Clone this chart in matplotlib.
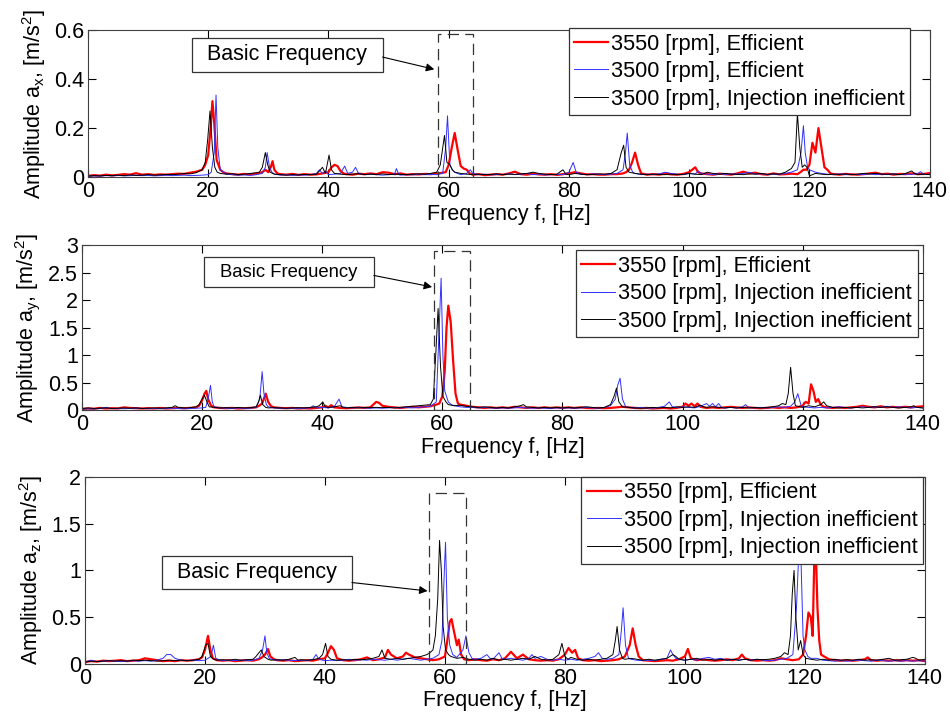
import numpy as np
import matplotlib
matplotlib.use("Agg")
import matplotlib.pyplot as plt
from matplotlib.patches import Rectangle
from matplotlib.ticker import FormatStrFormatter

plt.rcParams['font.family'] = ['Liberation Sans', 'DejaVu Sans']
plt.rcParams['mathtext.default'] = 'regular'

# ---- spectra: (frequency Hz, amplitude m/s^2) ----

# panel a_x
x_red = [(0, .005), (1, .008), (2, .006), (3, .01), (4, .007), (5, .009), (6, .012), (7, .01), (8, .016), (9, .01),
         (10, .012), (11, .009), (12, .011), (13, .01), (14, .012), (15, .014), (16, .013), (17, .018), (18, .022),
         (19, .03), (19.5, .05), (20, .09), (20.4, .2), (20.7, .31), (21, .22), (21.4, .07), (22, .03), (22.5, .02),
         (23, .015), (24, .012), (25, .01), (26, .013), (27, .011), (28, .014), (29, .02), (29.5, .03), (30, .02),
         (30.4, .04), (30.7, .065), (31, .03), (31.5, .015), (32, .012), (33, .01), (34, .013), (35, .009), (36, .012),
         (37, .01), (38, .011), (39, .015), (40, .02), (40.5, .04), (41, .05), (41.5, .045), (42, .025), (42.5, .015),
         (43, .012), (44, .01), (45, .014), (46, .012), (47, .015), (48, .012), (49, .02), (50, .018), (51, .012),
         (52, .015), (53, .01), (54, .012), (55, .011), (56, .013), (57, .012), (58, .015), (59, .018), (59.5, .02),
         (60, .05), (60.5, .12), (61, .18), (61.5, .11), (62, .045), (62.5, .035), (63, .03), (63.5, .015), (64, .01),
         (65, .012), (66, .008), (67, .01), (68, .012), (69, .01), (70, .015), (71, .022), (72, .012), (73, .01),
         (74, .014), (75, .011), (76, .01), (77, .012), (78, .009), (79, .012), (80, .015), (81, .02), (82, .015),
         (83, .011), (84, .012), (85, .01), (86, .01), (87, .012), (88, .012), (89, .015), (89.5, .02), (90, .03),
         (90.5, .06), (91, .1), (91.5, .05), (92, .015), (93, .01), (94, .012), (95, .01), (96, .014), (97, .011),
         (98, .01), (99, .013), (100, .02), (101, .04), (101.5, .02), (102, .015), (103, .012), (104, .01), (105, .014),
         (106, .012), (107, .01), (108, .015), (109, .022), (110, .015), (111, .018), (112, .012), (113, .01),
         (114, .015), (115, .011), (116, .012), (117, .014), (118, .012), (118.5, .02), (119, .03), (119.5, .03),
         (120, .05), (120.5, .14), (121, .1), (121.5, .2), (122, .12), (122.5, .04), (123, .03), (123.5, .015),
         (124, .012), (125, .01), (126, .013), (127, .011), (128, .01), (129, .012), (130, .015), (131, .018),
         (132, .012), (133, .014), (134, .01), (135, .013), (136, .012), (137, .015), (138, .012), (139, .013), (140, .016)]
x_blue = [(0, .003), (1, .005), (2, .004), (3, .006), (4, .005), (5, .007), (6, .005), (7, .006), (8, .008), (9, .006),
          (10, .007), (11, .005), (12, .006), (13, .008), (14, .006), (15, .007), (16, .008), (17, .006), (18, .007),
          (19, .008), (20, .01), (20.5, .02), (21, .1), (21.3, .335), (21.6, .12), (22, .03), (23, .012), (24, .01),
          (25, .008), (26, .009), (27, .007), (28, .01), (29, .015), (29.5, .04), (29.8, .1), (30.2, .04), (30.6, .02),
          (31, .012), (32, .008), (33, .01), (34, .007), (35, .009), (36, .008), (37, .01), (38, .015), (38.5, .03),
          (39, .015), (39.5, .025), (40, .01), (41, .012), (42, .015), (42.7, .045), (43.2, .015), (44, .02),
          (44.5, .04), (45, .015), (46, .01), (47, .012), (48, .01), (49, .008), (50, .01), (51, .012), (51.3, .035),
          (51.7, .01), (52, .008), (53, .01), (54, .009), (55, .012), (56, .01), (57, .011), (58, .01), (59, .015),
          (59.5, .12), (59.8, .25), (60.2, .05), (60.6, .03), (61, .02), (62, .01), (63, .015), (63.6, .03), (64, .015),
          (65, .01), (66, .012), (67, .009), (68, .011), (69, .01), (70, .014), (71, .01), (72, .012), (73, .015),
          (74, .01), (75, .012), (76, .009), (77, .01), (78, .011), (79, .01), (80, .02), (80.7, .06), (81.2, .02),
          (82, .012), (83, .01), (84, .013), (85, .011), (86, .01), (87, .012), (88, .015), (89, .03), (89.4, .1),
          (89.7, .18), (90.1, .05), (90.6, .02), (91, .015), (92, .01), (93, .012), (94, .01), (95, .013), (96, .02),
          (97, .015), (98, .012), (99, .01), (100, .015), (101, .012), (101.5, .025), (102, .015), (103, .012),
          (104, .01), (105, .014), (106, .011), (107, .013), (108, .012), (109, .015), (110, .02), (111, .012),
          (112, .014), (113, .01), (114, .012), (115, .011), (116, .015), (117, .02), (118, .03), (118.6, .1),
          (119, .21), (119.3, .1), (119.7, .04), (120, .03), (121, .02), (122, .015), (123, .012), (124, .01),
          (125, .013), (126, .01), (127, .012), (128, .01), (129, .011), (130, .013), (131, .01), (132, .012),
          (133, .011), (134, .013), (135, .01), (136, .012), (137, .011), (138, .015), (138.5, .022), (139, .01), (140, .012)]
x_black = [(0, .004), (1, .006), (2, .005), (3, .007), (4, .006), (5, .008), (6, .006), (7, .009), (8, .007), (9, .008),
           (10, .01), (11, .008), (12, .009), (13, .011), (14, .01), (15, .012), (16, .015), (17, .013), (18, .018),
           (19, .03), (19.5, .06), (19.9, .15), (20.3, .27), (20.7, .12), (21.1, .04), (21.5, .02), (22, .015),
           (23, .012), (24, .014), (25, .01), (26, .012), (27, .015), (28, .018), (28.5, .02), (29, .04), (29.5, .1),
           (29.9, .05), (30.3, .02), (31, .012), (32, .01), (33, .008), (34, .01), (35, .009), (36, .011), (37, .01),
           (38, .012), (38.5, .025), (39, .04), (39.5, .015), (40.1, .09), (40.5, .03), (41, .015), (42, .012),
           (43, .01), (44, .012), (45, .014), (46, .01), (47, .012), (48, .011), (49, .013), (50, .01), (51, .012),
           (52, .011), (53, .01), (54, .012), (55, .013), (56, .012), (57, .015), (58, .02), (58.6, .05), (59, .12),
           (59.3, .17), (59.7, .06), (60.2, .05), (60.6, .03), (61, .02), (62, .015), (63, .012), (64, .01), (65, .012),
           (66, .01), (67, .011), (68, .013), (69, .01), (70, .012), (71, .011), (72, .013), (73, .015), (74, .02),
           (75, .015), (76, .012), (77, .01), (78, .012), (79, .03), (79.5, .012), (80, .01), (81, .015), (82, .012),
           (83, .01), (84, .011), (85, .013), (86, .012), (87, .015), (88, .03), (88.7, .1), (89.1, .13), (89.5, .04),
           (90, .02), (91, .015), (92, .012), (93, .01), (94, .012), (95, .011), (96, .01), (97, .012), (98, .01),
           (99, .011), (100, .015), (101, .012), (102, .01), (103, .02), (104, .015), (105, .012), (106, .015),
           (107, .012), (108, .011), (109, .01), (110, .013), (111, .012), (112, .015), (113, .011), (114, .013),
           (115, .012), (116, .02), (117, .035), (117.6, .06), (118, .26), (118.4, .12), (118.8, .04), (119.2, .05),
           (119.6, .04), (120, .005), (121, .015), (122, .012), (123, .01), (124, .012), (125, .011), (126, .013),
           (127, .01), (128, .012), (129, .015), (130, .013), (131, .015), (132, .012), (133, .011), (134, .013),
           (135, .01), (136, .015), (137, .025), (137.5, .015), (138, .01), (139, .012), (140, .01)]

# panel a_y
y_red = [(0, .02), (1, .03), (2, .025), (3, .04), (4, .03), (5, .035), (6, .03), (7, .05), (8, .04), (9, .035),
         (10, .03), (11, .035), (12, .03), (13, .04), (14, .03), (15, .035), (16, .04), (17, .035), (18, .04),
         (19, .05), (19.5, .08), (20, .18), (20.4, .3), (20.7, .35), (21, .2), (21.5, .08), (22, .05), (23, .04),
         (24, .035), (25, .04), (26, .03), (27, .035), (28, .04), (29, .05), (29.5, .08), (30, .12), (30.6, .3),
         (31, .15), (31.5, .07), (32, .05), (33, .04), (34, .035), (35, .04), (36, .03), (37, .035), (38, .03),
         (39, .04), (40, .05), (40.5, .08), (41, .05), (41.5, .09), (42, .05), (43, .04), (44, .035), (45, .04),
         (46, .05), (47, .04), (48, .05), (48.5, .1), (49, .15), (49.5, .13), (50, .08), (51, .06), (52, .05),
         (53, .04), (54, .05), (55, .06), (56, .05), (57, .06), (58, .07), (59, .1), (59.5, .12), (60, .25),
         (60.4, .7), (60.7, 1.5), (61, 1.9), (61.4, 1.6), (61.8, .9), (62.2, .3), (62.6, .12), (63, .1), (64, .08),
         (65, .06), (66, .05), (67, .04), (68, .05), (69, .04), (70, .05), (71, .04), (72, .06), (73, .05), (74, .04),
         (75, .05), (76, .04), (77, .05), (78, .04), (79, .05), (80, .04), (81, .05), (82, .04), (83, .05), (84, .04),
         (85, .035), (86, .04), (87, .035), (88, .04), (89, .05), (90, .06), (91, .05), (92, .04), (93, .035),
         (94, .04), (95, .03), (96, .035), (97, .04), (98, .03), (99, .04), (100, .06), (100.5, .12), (101, .08),
         (101.5, .12), (102, .07), (102.5, .12), (103, .06), (104, .04), (105, .05), (106, .04), (107, .05),
         (108, .06), (109, .05), (110, .04), (111, .05), (112, .04), (113, .035), (114, .04), (115, .05), (116, .04),
         (117, .05), (118, .04), (119, .05), (120, .08), (120.5, .15), (121, .12), (121.4, .47), (121.8, .35),
         (122.2, .15), (122.6, .2), (123, .1), (123.5, .06), (124, .05), (125, .04), (126, .05), (127, .04),
         (128, .05), (129, .06), (130, .08), (131, .06), (132, .05), (133, .07), (134, .05), (135, .06), (136, .05),
         (137, .06), (138, .05), (139, .06), (140, .07)]
y_blue = [(0, .02), (1, .025), (2, .02), (3, .03), (4, .05), (5, .025), (6, .03), (7, .025), (8, .03), (9, .035),
          (10, .03), (11, .025), (12, .03), (13, .025), (14, .03), (15, .035), (16, .03), (17, .025), (18, .03),
          (19, .035), (20, .04), (20.6, .05), (21, .2), (21.4, .45), (21.7, .15), (22, .06), (23, .04), (24, .035),
          (25, .03), (26, .04), (27, .03), (28, .035), (29, .05), (29.6, .2), (30, .7), (30.3, .3), (30.7, .1),
          (31, .06), (32, .04), (33, .035), (34, .03), (35, .035), (36, .03), (37, .035), (38, .04), (38.5, .08),
          (39, .04), (40, .05), (41, .04), (42, .06), (42.8, .2), (43.3, .06), (44, .05), (45, .04), (46, .05),
          (47, .04), (48, .035), (49, .04), (50, .035), (51, .04), (52, .05), (53, .04), (54, .05), (55, .04),
          (56, .05), (57, .06), (58, .07), (59, .15), (59.4, 1.3), (59.8, 2.4), (60.1, 1.0), (60.4, .35), (61, .15),
          (61.5, .1), (62, .08), (63, .06), (64, .05), (65, .05), (66, .04), (67, .05), (68, .04), (69, .035),
          (70, .04), (71, .035), (72, .04), (73, .05), (74, .04), (75, .035), (76, .04), (77, .035), (78, .03),
          (79, .04), (80, .035), (81, .04), (82, .035), (83, .04), (84, .05), (85, .04), (86, .035), (87, .05),
          (88, .08), (88.8, .2), (89.2, .45), (89.6, .58), (90, .2), (90.5, .07), (91, .05), (92, .04), (93, .05),
          (94, .04), (95, .035), (96, .05), (97, .07), (97.8, .15), (98.3, .06), (99, .05), (100, .06), (101, .05),
          (102, .04), (103, .07), (104, .12), (104.5, .07), (105, .12), (105.5, .06), (106, .12), (106.5, .05),
          (107, .04), (108, .05), (109, .04), (110, .06), (110.5, .1), (111, .05), (112, .04), (113, .05), (114, .04),
          (115, .05), (116, .06), (117, .05), (118, .07), (118.7, .15), (119.2, .3), (119.7, .1), (120, .06),
          (121, .05), (122, .04), (123, .05), (124, .04), (125, .05), (126, .06), (127, .05), (128, .04), (129, .05),
          (130, .06), (131, .05), (132, .06), (133, .05), (134, .07), (135, .05), (136, .06), (137, .05), (138, .04),
          (139, .05), (140, .04)]
y_black = [(0, .03), (1, .04), (2, .03), (3, .035), (4, .04), (5, .03), (6, .035), (7, .04), (8, .035), (9, .04),
           (10, .03), (11, .035), (12, .04), (13, .035), (14, .04), (15, .05), (15.5, .08), (16, .05), (17, .04),
           (18, .045), (19, .06), (19.5, .1), (20, .2), (20.4, .27), (20.8, .15), (21.2, .06), (22, .05), (23, .04),
           (24, .045), (25, .04), (26, .05), (27, .04), (28, .045), (29, .06), (29.4, .15), (29.7, .27), (30.1, .1),
           (30.6, .05), (31, .04), (32, .045), (33, .04), (34, .035), (35, .04), (36, .045), (37, .04), (38, .05),
           (39, .06), (39.5, .08), (40.1, .15), (40.5, .06), (41, .05), (42, .06), (43, .08), (43.5, .05), (44, .04),
           (45, .05), (46, .04), (47, .05), (48, .045), (49, .05), (50, .045), (51, .05), (52, .04), (53, .05),
           (54, .06), (55, .07), (56, .08), (57, .09), (58, .1), (58.5, .2), (58.9, 1.0), (59.3, 1.85), (59.7, .8),
           (60.1, .25), (60.6, .15), (61, .1), (62, .08), (63, .09), (64, .07), (65, .06), (66, .05), (67, .06),
           (68, .05), (69, .04), (70, .05), (71, .04), (72, .06), (73, .08), (73.5, .1), (74, .06), (75, .05),
           (76, .04), (77, .05), (78, .04), (79, .05), (80, .04), (81, .05), (82, .04), (83, .05), (84, .06), (85, .05),
           (86, .04), (87, .05), (88, .1), (88.6, .25), (89, .4), (89.4, .15), (90, .06), (91, .05), (92, .04),
           (93, .035), (94, .04), (95, .05), (96, .04), (97, .05), (98, .04), (99, .06), (100, .05), (101, .06),
           (102, .05), (103, .09), (103.5, .06), (104, .05), (105, .06), (106, .05), (107, .04), (108, .05), (109, .04),
           (110, .05), (111, .04), (112, .05), (113, .04), (114, .05), (115, .06), (116, .08), (116.6, .12),
           (117.2, .1), (117.6, .3), (118, .78), (118.4, .3), (118.8, .08), (119.5, .06), (120, .05), (121, .08),
           (122, .06), (123, .1), (123.5, .15), (124, .08), (125, .05), (126, .04), (127, .05), (128, .04), (129, .05),
           (130, .04), (131, .05), (132, .06), (133, .05), (134, .06), (135, .05), (136, .04), (137, .05), (138, .06),
           (138.5, .08), (139, .05), (140, .04)]

# panel a_z
z_red = [(0, .02), (1, .03), (2, .025), (3, .035), (4, .03), (5, .035), (6, .04), (7, .03), (8, .035), (9, .04),
         (10, .06), (11, .05), (12, .04), (13, .03), (14, .035), (15, .03), (16, .04), (17, .035), (18, .04),
         (19, .05), (19.5, .07), (20, .15), (20.5, .3), (20.9, .15), (21.3, .06), (22, .04), (23, .035), (24, .04),
         (25, .03), (26, .035), (27, .04), (28, .035), (29, .05), (29.5, .07), (30, .1), (30.5, .16), (30.9, .08),
         (31.5, .05), (32, .04), (33, .035), (34, .04), (35, .03), (36, .035), (37, .04), (38, .035), (39, .05),
         (40, .06), (40.5, .12), (41, .19), (41.5, .15), (42, .06), (43, .04), (44, .035), (45, .04), (46, .05),
         (47, .07), (48, .04), (49, .05), (50, .07), (50.5, .15), (51, .1), (52, .06), (53, .08), (53.5, .12),
         (54, .1), (55, .07), (56, .06), (57, .05), (58, .04), (59, .05), (60, .08), (60.4, .25), (60.8, .45),
         (61.1, .48), (61.5, .35), (62, .2), (62.3, .26), (62.7, .1), (63.2, .05), (64, .04), (65, .05), (66, .04),
         (67, .035), (68, .05), (69, .04), (70, .06), (71, .13), (72, .06), (73, .1), (74, .05), (75, .04),
         (76, .035), (77, .04), (78, .035), (79, .05), (80, .1), (80.6, .17), (81.2, .12), (81.7, .15), (82.2, .06),
         (83, .04), (84, .035), (85, .04), (86, .03), (87, .035), (88, .04), (89, .05), (90, .08), (90.8, .2),
         (91.3, .38), (91.8, .2), (92.3, .08), (93, .04), (94, .035), (95, .03), (96, .035), (97, .04), (98, .035),
         (99, .05), (100, .08), (100.5, .16), (101, .06), (102, .04), (103, .05), (104, .04), (105, .035), (106, .04),
         (107, .05), (108, .04), (109, .06), (109.5, .1), (110, .06), (111, .04), (112, .035), (113, .04),
         (114, .035), (115, .04), (116, .06), (117, .05), (118, .04), (119, .05), (119.7, .1), (120.2, .3),
         (120.6, .55), (121, .5), (121.3, .3), (121.7, 1.5), (122.1, .6), (122.4, .25), (122.7, .1), (123.2, .08),
         (124, .05), (125, .04), (126, .035), (127, .04), (128, .035), (129, .04), (130, .05), (130.5, .07),
         (131, .04), (132, .035), (133, .04), (134, .035), (135, .04), (136, .035), (137, .04), (138, .035),
         (139, .04), (140, .03)]
z_blue = [(0, .02), (1, .04), (2, .025), (3, .03), (4, .035), (5, .03), (6, .025), (7, .03), (8, .035), (9, .03),
          (10, .035), (11, .03), (12, .04), (13, .06), (13.6, .1), (14.3, .1), (15, .06), (16, .04), (17, .035),
          (18, .04), (19, .035), (20, .04), (21, .08), (21.4, .2), (21.8, .06), (22.5, .04), (23, .035), (24, .04),
          (25, .035), (26, .04), (27, .035), (28, .04), (29, .06), (29.6, .15), (30, .3), (30.3, .12), (30.7, .06),
          (31, .05), (32, .04), (33, .045), (34, .04), (35, .035), (36, .04), (37, .035), (38, .05), (38.5, .1),
          (39, .05), (40, .035), (41, .04), (42, .035), (43, .04), (44, .05), (45, .04), (46, .045), (47, .04),
          (48, .05), (49, .045), (50, .04), (51, .05), (52, .04), (53, .05), (54, .06), (55, .05), (56, .04),
          (57, .05), (58, .06), (59, .1), (59.5, .25), (59.9, 1.0), (60.1, 1.3), (60.4, .5), (60.8, .2), (61.3, .1),
          (62, .07), (63, .15), (63.5, .3), (64, .12), (64.5, .06), (65, .05), (66, .06), (67, .1), (67.5, .06),
          (68, .05), (69, .12), (69.5, .06), (70, .05), (71, .06), (72, .05), (73, .04), (74, .06), (74.5, .1),
          (75, .06), (76, .08), (77, .05), (78, .04), (79, .05), (80, .04), (81, .05), (82, .04), (83, .05), (84, .06),
          (85, .08), (85.6, .12), (86.2, .06), (87, .05), (88, .06), (89, .1), (89.4, .35), (89.7, .6), (90.1, .2),
          (90.6, .06), (91, .05), (92, .04), (93, .035), (94, .04), (95, .035), (96, .05), (97, .06), (97.6, .15),
          (98, .1), (98.5, .06), (99, .05), (100, .04), (101, .05), (102, .04), (103, .06), (104, .07), (105, .05),
          (106, .06), (107, .04), (108, .05), (109, .04), (110, .05), (111, .04), (112, .05), (113, .04),
          (114, .035), (115, .04), (116, .05), (117, .06), (118, .1), (118.6, .6), (119, 1.2), (119.3, 1.25),
          (119.7, .3), (120, .15), (120.5, .08), (121, .06), (122, .06), (123, .04), (124, .035), (125, .03),
          (126, .035), (127, .03), (128, .035), (129, .04), (130, .035), (131, .03), (132, .04), (133, .035),
          (134, .03), (135, .035), (136, .03), (137, .035), (138, .03), (139, .035), (140, .03)]
z_black = [(0, .02), (1, .03), (2, .025), (3, .03), (4, .035), (5, .03), (6, .035), (7, .03), (8, .04), (9, .035),
           (10, .04), (11, .035), (12, .03), (13, .035), (14, .04), (15, .035), (16, .04), (17, .035), (18, .04),
           (19, .05), (19.5, .08), (20.1, .2), (20.5, .22), (20.9, .08), (21.5, .05), (22, .04), (23, .045), (24, .04),
           (25, .05), (26, .04), (27, .045), (28, .05), (28.5, .08), (29, .12), (29.4, .15), (29.8, .08), (30.5, .05),
           (31, .04), (32, .045), (33, .04), (34, .05), (35, .07), (35.5, .04), (36, .045), (37, .04), (38, .045),
           (39, .06), (39.6, .1), (40.1, .22), (40.5, .08), (41, .05), (42, .04), (43, .045), (44, .04), (45, .05),
           (46, .045), (47, .05), (48, .06), (49, .08), (49.5, .15), (50, .06), (51, .05), (52, .06), (53, .05),
           (54, .06), (55, .07), (56, .08), (57, .1), (57.5, .12), (58, .15), (58.4, .3), (58.8, .7), (59.1, 1.32),
           (59.4, 1.0), (59.7, .4), (60.1, .15), (60.6, .1), (61, .08), (62, .06), (63, .07), (64, .05), (65, .04),
           (66, .05), (67, .04), (68, .06), (69, .04), (70, .05), (71, .04), (72, .05), (73, .06), (74, .05), (75, .08),
           (76, .05), (77, .04), (78, .05), (79, .1), (79.5, .22), (80, .08), (80.5, .05), (81, .07), (82, .05),
           (83, .04), (84, .05), (85, .04), (86, .05), (87, .06), (88, .1), (88.4, .25), (88.7, .4), (89.1, .15),
           (89.6, .06), (90, .05), (91, .06), (92, .05), (93, .04), (94, .05), (95, .04), (96, .05), (97, .06),
           (98, .1), (98.5, .08), (99, .05), (100, .04), (101, .05), (102, .06), (103, .04), (104, .05), (105, .04),
           (106, .05), (107, .04), (108, .05), (109, .04), (110, .05), (111, .04), (112, .05), (113, .045), (114, .05),
           (115, .06), (116, .08), (116.6, .12), (117.2, .1), (117.6, .3), (117.9, .75), (118.2, 1.0), (118.5, .5),
           (118.9, .15), (119.3, .25), (119.7, .1), (120.2, .06), (121, .05), (122, .04), (123, .05), (124, .04),
           (125, .05), (126, .04), (127, .045), (128, .04), (129, .05), (130, .04), (131, .045), (132, .04), (133, .05),
           (134, .06), (135, .04), (136, .045), (137, .05), (138, .07), (138.5, .06), (139, .04), (140, .05)]

labels_x = ['3550 [rpm], Efficient', '3500 [rpm], Efficient', '3500 [rpm], Injection inefficient']
labels_yz = ['3550 [rpm], Efficient', '3500 [rpm], Injection inefficient', '3500 [rpm], Injection inefficient']

panels = [
    dict(series=[x_red, x_blue, x_black], labels=labels_x, ylim=0.6, ystep=0.2, ylabel='Amplitude a$_x$, [m/s$^2$]',
         pos=[0.0926, 0.753, 0.886, 0.205], leg=(0.977, 1.014),
         dash=(58.2, 5.8, 0.585), box=(17.3, 0.43, 31.7, 0.137), boxfs=15.5,
         arrow=((49.0, 0.49), (57.6, 0.44))),
    dict(series=[y_red, y_blue, y_black], labels=labels_yz, ylim=3, ystep=0.5, ylabel='Amplitude a$_y$, [m/s$^2$]',
         pos=[0.0863, 0.428, 0.885, 0.230], leg=(0.994, 0.970),
         dash=(58.6, 6.0, 2.89), box=(20.3, 2.24, 28.3, 0.54), boxfs=13.3,
         arrow=((48.6, 2.45), (58.3, 2.24))),
    dict(series=[z_red, z_blue, z_black], labels=labels_yz, ylim=2, ystep=0.5, ylabel='Amplitude a$_z$, [m/s$^2$]',
         pos=[0.0895, 0.074, 0.884, 0.261], leg=(0.998, 1.0),
         dash=(57.3, 6.2, 1.83), box=(12.8, 0.80, 31.7, 0.355), boxfs=15.5,
         arrow=((44.5, 0.87), (57.1, 0.78))),
]

colors = ['#ff0000', '#3030ff', '#000000']
widths = [1.6, 0.7, 0.7]

fig = plt.figure(figsize=(9.5, 7.17), dpi=100)

for p in panels:
    ax = fig.add_axes(p['pos'])
    handles = []
    for data, c, lw, lab in zip(p['series'], colors, widths, p['labels']):
        arr = np.array(data).T
        h, = ax.plot(arr[0], arr[1], color=c, lw=lw, label=lab)
        handles.append(h)

    ax.set_xlim(0, 140)
    ax.set_ylim(0, p['ylim'])
    ax.set_xticks(np.arange(0, 141, 20))
    ax.set_yticks(np.arange(0, p['ylim'] + 1e-9, p['ystep']))
    ax.yaxis.set_major_formatter(FormatStrFormatter('%g'))
    ax.tick_params(direction='in', top=True, right=True, length=6, width=0.8, labelsize=15.5, pad=3)
    for s in ax.spines.values():
        s.set_color('0.25')
        s.set_linewidth(0.8)
    ax.set_xlabel('Frequency f, [Hz]', fontsize=15.5, labelpad=1)
    ax.set_ylabel(p['ylabel'], fontsize=15.5, labelpad=4)

    # dashed box round the basic frequency
    dx, dw, dh = p['dash']
    ax.add_patch(Rectangle((dx, 0), dw, dh, fill=False, ls=(0, (9, 5)), lw=0.9, ec='0.2', zorder=4))

    # "Basic Frequency" label box with arrow
    bx, by, bw, bh = p['box']
    ax.add_patch(Rectangle((bx, by), bw, bh, fc='white', ec='0.2', lw=0.9, zorder=5))
    ax.text(bx + bw / 2, by + bh / 2, 'Basic Frequency', fontsize=p['boxfs'], ha='center', va='center', zorder=6)
    ax.annotate('', xy=p['arrow'][1], xytext=p['arrow'][0],
                arrowprops=dict(arrowstyle='-|>', color='k', lw=0.8, mutation_scale=12, shrinkA=0, shrinkB=0),
                zorder=6)

    leg = ax.legend(handles=handles, loc='upper right', bbox_to_anchor=p['leg'], borderaxespad=0,
                    fontsize=15.7, fancybox=False, framealpha=1, edgecolor='0.2', handlelength=1.55,
                    handletextpad=0.15, labelspacing=0.3, borderpad=0.25)
    leg.get_frame().set_linewidth(0.9)
    leg.set_zorder(10)

fig.savefig('out.png', dpi=100)
